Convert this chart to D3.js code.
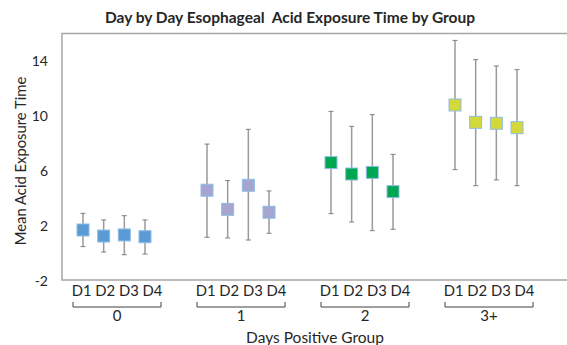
<!DOCTYPE html>
<html>
<head>
  <meta charset='utf-8'>
  <title>Esophageal Acid Exposure</title>
  <script src="https://cdn.jsdelivr.net/npm/d3@7"></script>
  <style>
    body { margin: 0; background: #fff; }
    text { font-family: Lato, 'Open Sans', sans-serif; fill: #262626; }
  </style>
</head>
<body>
  <svg width=567 height=345></svg>

<script>
  // data
  const groups = ['0', '1', '2', '3+'];
  const days = ['D1', 'D2', 'D3', 'D4'];
  const meanByGroup = [
    [1.71, 1.27, 1.35, 1.22],
    [4.60, 3.21, 4.96, 3.00],
    [6.61, 5.78, 5.90, 4.50],
    [10.80, 9.54, 9.47, 9.15]
  ];
  const highByGroup = [
    [2.92, 2.44, 2.75, 2.44],
    [7.96, 5.30, 9.03, 4.55],
    [10.34, 9.25, 10.10, 7.21],
    [15.50, 14.10, 13.64, 13.37]
  ];
  const lowByGroup = [
    [0.50, 0.11, -0.09, -0.04],
    [1.18, 1.13, 0.98, 1.47],
    [2.90, 2.29, 1.66, 1.76],
    [6.10, 4.93, 5.35, 4.93]
  ];
  const yTicks = [-2, 2, 6, 10, 14];
  const groupColors = ['#5b9bd5', '#a5a5cf', '#00a650', '#d3d93a'];

  const svg = d3.select('svg');

  // each group takes 4 slots + 2 empty slots
  const slotsPerGroup = 6;
  const x = d3.scaleLinear().domain([0, 21]).range([83, 517]);
  const y = d3.scaleLinear().domain([-2, 16]).range([281, 33.5]);

  let rows = [];
  groups.forEach(function (g, gi) {
    days.forEach(function (d, di) {
      rows.push({
        group: g, gi: gi, day: d,
        slot: gi * slotsPerGroup + di,
        mean: meanByGroup[gi][di],
        hi: highByGroup[gi][di],
        lo: lowByGroup[gi][di]
      });
    });
  });

  // frame (no right edge visible)
  svg.append('path')
    .attr('d', `M570,${y(16)}H62V${y(-2) - 1}H570`)
    .attr('fill', 'none')
    .attr('stroke', '#a6a6a6')
    .attr('stroke-width', 1.5);

  // title
  svg.append('text')
    .attr('x', 290).attr('y', 23)
    .attr('text-anchor', 'middle')
    .attr('font-size', '15.5px')
    .attr('font-weight', 'bold')
    .style('white-space', 'pre')
    .text('Day by Day Esophageal  Acid Exposure Time by Group');

  // y axis
  let yAxis = d3.axisLeft(y).tickValues(yTicks).tickSize(0).tickPadding(0)
    .tickFormat(d => String(d));
  let yg = svg.append('g').attr('transform', 'translate(48,0)').call(yAxis);
  yg.select('.domain').remove();
  yg.selectAll('text')
    .attr('font-size', '14px')
    .attr('font-family', 'Lato, sans-serif')
    .attr('fill', '#262626');

  svg.append('text')
    .attr('transform', 'translate(25.5,161) rotate(-90)')
    .attr('text-anchor', 'middle')
    .attr('font-size', '14.8px')
    .text('Mean Acid Exposure Time');

  // error bars
  let bars = svg.append('g').selectAll('g')
    .data(rows)
    .enter().append('g');

  bars.append('line')
    .attr('x1', d => x(d.slot)).attr('x2', d => x(d.slot))
    .attr('y1', d => y(d.hi)).attr('y2', d => y(d.lo))
    .attr('stroke', '#9a9a9a').attr('stroke-width', 1.5);

  ['hi', 'lo'].forEach(function (k) {
    bars.append('line')
      .attr('x1', d => x(d.slot) - 2.5).attr('x2', d => x(d.slot) + 2.5)
      .attr('y1', d => y(d[k])).attr('y2', d => y(d[k]))
      .attr('stroke', '#7f7f7f').attr('stroke-width', 1);
  });

  // mean markers
  const sz = 12;
  bars.append('rect')
    .attr('x', d => x(d.slot) - sz / 2)
    .attr('y', d => y(d.mean) - sz / 2)
    .attr('width', sz).attr('height', sz)
    .attr('fill', d => groupColors[d.gi])
    .attr('stroke', '#8fbde6')
    .attr('stroke-width', 1);

  // category labels + brackets
  let cat = svg.append('g').selectAll('g')
    .data(groups)
    .enter().append('g')
    .attr('transform', (g, gi) => `translate(${(x(gi * slotsPerGroup) + x(gi * slotsPerGroup + 3)) / 2 + 3},0)`);

  cat.append('text')
    .attr('y', 296)
    .attr('text-anchor', 'middle')
    .attr('font-size', '14.8px')
    .text(days.join(' '));

  cat.append('path')
    .attr('d', 'M-44,302V307H44V302')
    .attr('fill', 'none')
    .attr('stroke', '#404040')
    .attr('stroke-width', 1);

  cat.append('text')
    .attr('y', 321)
    .attr('text-anchor', 'middle')
    .attr('font-size', '15px')
    .text(g => g);

  svg.append('text')
    .attr('x', 315).attr('y', 343)
    .attr('text-anchor', 'middle')
    .attr('font-size', '15.5px')
    .text('Days Positive Group');
</script>
</body>
</html>
